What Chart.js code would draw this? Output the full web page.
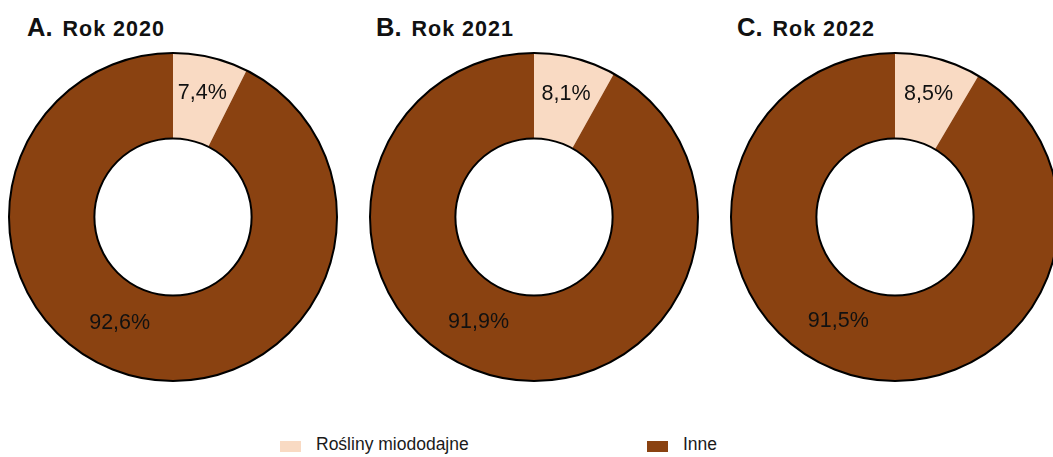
<!DOCTYPE html>
<html>
<head>
<meta charset="utf-8">
<script src="https://cdn.jsdelivr.net/npm/chart.js@4.4.1/dist/chart.umd.min.js"></script>
<style>
  html, body { margin: 0; padding: 0; width: 1053px; height: 457px; overflow: hidden; background: #fff; }
  .wrap { position: absolute; width: 340px; height: 340px; }
  .title { position: absolute; top: 13px; white-space: nowrap; color: #111; }
  .title .letter { font-family: "Liberation Sans", Arial, sans-serif; font-weight: bold; font-size: 25.5px; }
  .title .year { font-family: "Liberation Sans", Arial, sans-serif; font-weight: bold; font-size: 21.5px; letter-spacing: 1px; margin-left: 10px; }
  .legend { position: absolute; top: 434px; left: 0; width: 1053px; height: 20px;
            font-family: "Liberation Sans", Arial, sans-serif; font-size: 17.5px; color: #1a1a1a; }
  .legend .item { position: absolute; top: 0; height: 20px; line-height: 20px; }
  .legend .box { position: absolute; top: 7px; width: 21px; height: 11px; }
  .legend .txt { position: absolute; left: 36px; top: 0; white-space: nowrap; }
</style>
</head>
<body>
<script>
// ---- data ----
const categories = ["Rośliny miododajne", "Inne"];
const panelLetters = ["A.", "B.", "C."];
const years = ["Rok 2020", "Rok 2021", "Rok 2022"];
const miododajne = [7.4, 8.1, 8.5];
const inne = [92.6, 91.9, 91.5];

// ---- styles / layout ----
const colors = ["#F9DAC3", "#8A4211"];
const centersX = [173, 534, 895];
const centerY = 216.5;
const titleLefts = [27, 376, 737];
const legendLefts = [280, 647];
const outerR = 164, innerR = 81.5;
const labelFrac = [0.5, 0.54];     // position along the arc
const labelRad = [1.05, 0.98];     // relative to mid radius

function fmt(v) { return v.toFixed(1).replace('.', ',') + '%'; }

const ringPlugin = {
  id: 'ring',
  afterDatasetsDraw(chart) {
    const ctx = chart.ctx;
    const meta = chart.getDatasetMeta(0);
    const a0 = meta.data[0];
    const x = a0.x, y = a0.y;
    ctx.save();
    ctx.strokeStyle = '#000';
    ctx.lineWidth = 2;
    ctx.beginPath(); ctx.arc(x, y, a0.outerRadius, 0, Math.PI * 2); ctx.stroke();
    ctx.beginPath(); ctx.arc(x, y, a0.innerRadius, 0, Math.PI * 2); ctx.stroke();
    // labels
    ctx.fillStyle = '#111';
    ctx.font = '21.5px "Liberation Sans", Arial, sans-serif';
    ctx.textAlign = 'center';
    ctx.textBaseline = 'middle';
    const data = chart.data.datasets[0].data;
    meta.data.forEach((arc, i) => {
      const ang = arc.startAngle + (arc.endAngle - arc.startAngle) * labelFrac[i];
      const r = (arc.outerRadius + arc.innerRadius) / 2 * labelRad[i];
      ctx.fillText(fmt(data[i]), arc.x + Math.cos(ang) * r, arc.y + Math.sin(ang) * r);
    });
    ctx.restore();
  }
};

for (let k = 0; k < years.length; k++) {
  const t = document.createElement('div');
  t.className = 'title';
  t.style.left = titleLefts[k] + 'px';
  t.innerHTML = '<span class="letter">' + panelLetters[k] + '</span><span class="year">' + years[k] + '</span>';
  document.body.appendChild(t);

  const w = document.createElement('div');
  w.className = 'wrap';
  w.style.left = (centersX[k] - 170) + 'px';
  w.style.top = (centerY - 170) + 'px';
  const c = document.createElement('canvas');
  w.appendChild(c);
  document.body.appendChild(w);

  new Chart(c, {
    type: 'doughnut',
    data: {
      labels: categories,
      datasets: [{
        data: [miododajne[k], inne[k]],
        backgroundColor: colors,
        borderWidth: 0
      }]
    },
    options: {
      responsive: true,
      maintainAspectRatio: false,
      animation: false,
      radius: outerR,
      cutout: innerR,
      layout: { padding: 0 },
      plugins: { legend: { display: false }, tooltip: { enabled: false }, title: { display: false } }
    },
    plugins: [ringPlugin]
  });
}

const lg = document.createElement('div');
lg.className = 'legend';
categories.forEach((name, i) => {
  const it = document.createElement('div');
  it.className = 'item';
  it.style.left = legendLefts[i] + 'px';
  it.innerHTML = '<div class="box" style="background:' + colors[i] + '"></div><div class="txt">' + name + '</div>';
  lg.appendChild(it);
});
document.body.appendChild(lg);
</script>
</body>
</html>
